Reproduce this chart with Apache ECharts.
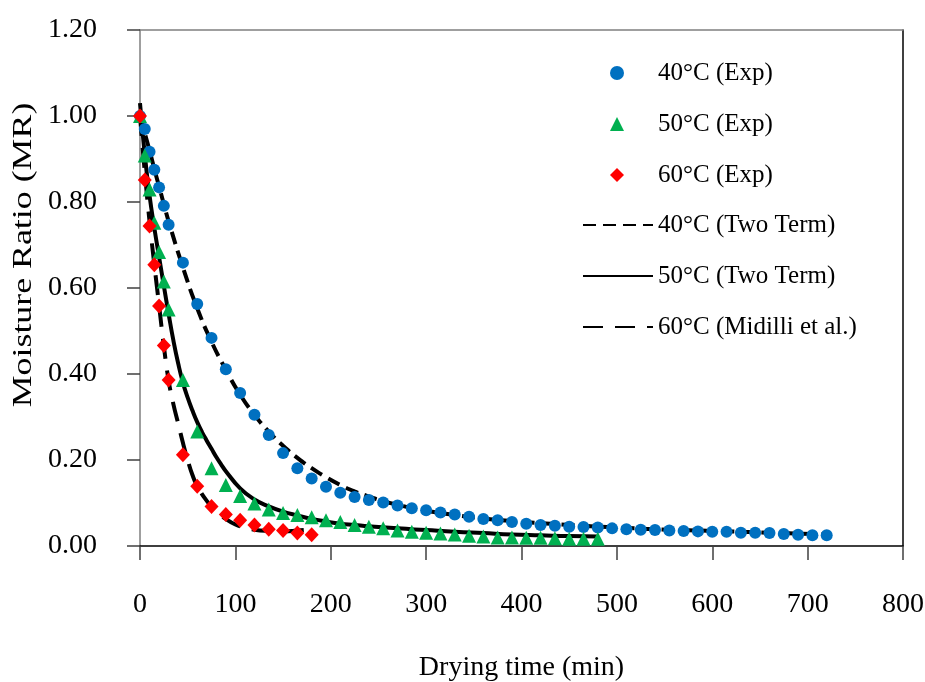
<!DOCTYPE html>
<html>
<head>
<meta charset="utf-8">
<script src="https://cdn.jsdelivr.net/npm/echarts@6/dist/echarts.min.js"></script>
<style>
html,body{margin:0;padding:0;background:#fff;}
#chart{width:925px;height:682px;}
</style>
</head>
<body>
<div id="chart"></div>
<script>
// ---- Data ----
const xTicks = [0, 100, 200, 300, 400, 500, 600, 700, 800];
const yTicks = [0.00, 0.20, 0.40, 0.60, 0.80, 1.00, 1.20];

const seriesNames = ['40°C (Exp)', '50°C (Exp)', '60°C (Exp)', '40°C (Two Term)', '50°C (Two Term)', '60°C (Midilli et al.)'];

const time40 = [0,5,10,15,20,25,30,45,60,75,90,105,120,135,150,165,180,195,210,225,240,255,270,285,300,315,330,345,360,375,390,405,420,435,450,465,480,495,510,525,540,555,570,585,600,615,630,645,660,675,690,705,720];
const mr40 = [1.00,0.970,0.917,0.875,0.834,0.791,0.747,0.659,0.563,0.484,0.411,0.356,0.305,0.258,0.216,0.181,0.157,0.138,0.124,0.114,0.107,0.101,0.094,0.088,0.083,0.078,0.073,0.068,0.063,0.060,0.056,0.052,0.049,0.047,0.045,0.044,0.043,0.041,0.039,0.038,0.037,0.036,0.035,0.034,0.033,0.033,0.031,0.031,0.030,0.028,0.026,0.025,0.025];

const time50 = [0,5,10,15,20,25,30,45,60,75,90,105,120,135,150,165,180,195,210,225,240,255,270,285,300,315,330,345,360,375,390,405,420,435,450,465,480];
const mr50 = [1.00,0.908,0.829,0.752,0.684,0.615,0.550,0.386,0.266,0.181,0.142,0.116,0.099,0.085,0.077,0.072,0.067,0.060,0.056,0.049,0.045,0.041,0.036,0.033,0.031,0.029,0.027,0.024,0.022,0.020,0.020,0.019,0.019,0.018,0.017,0.017,0.017];

const time60 = [0,5,10,15,20,25,30,45,60,75,90,105,120,135,150,165,180];
const mr60 = [1.00,0.851,0.744,0.654,0.558,0.466,0.386,0.212,0.139,0.092,0.073,0.060,0.049,0.039,0.036,0.030,0.026];

// model curves
const fitTime40 = [0,5,10,15,20,25,30,45,60,75,90,105,120,135,150,165,180,195,210,225,240,255,270,285,300,330,360,390,420,450,480,510,540,570,600,630,660,690,720];
const fitMr40 = [1.00,0.960,0.920,0.877,0.836,0.795,0.755,0.648,0.553,0.475,0.410,0.352,0.305,0.266,0.233,0.205,0.181,0.160,0.142,0.127,0.115,0.104,0.096,0.088,0.082,0.072,0.064,0.058,0.053,0.049,0.045,0.042,0.039,0.037,0.035,0.033,0.031,0.029,0.027];

const fitTime50 = [0,5,10,15,20,25,30,35,40,45,50,55,60,65,70,75,80,85,90,105,120,135,150,165,180,195,210,225,240,270,300,330,360,390,420,450,480];
const fitMr50 = [1.03,0.910,0.815,0.740,0.672,0.605,0.540,0.478,0.425,0.380,0.345,0.315,0.288,0.265,0.245,0.226,0.207,0.190,0.174,0.134,0.108,0.092,0.080,0.071,0.063,0.057,0.052,0.049,0.046,0.041,0.037,0.033,0.030,0.027,0.025,0.023,0.022];

const fitTime60 = [0,5,10,15,20,25,30,35,40,45,50,55,60,70,80,90,100,110,120,135,150,165,180];
const fitMr60 = [1.00,0.870,0.755,0.655,0.560,0.465,0.385,0.330,0.285,0.240,0.200,0.165,0.140,0.105,0.080,0.063,0.050,0.043,0.038,0.035,0.034,0.036,0.039];

// ---- Chart ----
const FONT = '"Liberation Serif", "Times New Roman", serif';
const zip = (a, b) => a.map((v, i) => [v, b[i]]);

const chart = echarts.init(document.getElementById('chart'), null, {renderer: 'canvas'});

const option = {
  backgroundColor: '#ffffff',
  animation: false,
  grid: {left: 140, right: 22, top: 30, bottom: 136, containLabel: false, outerBoundsMode: 'none'},
  legend: [{
    orient: 'vertical',
    left: 610,
    top: 60,
    padding: 0,
    itemWidth: 14,
    itemHeight: 14,
    itemGap: 25,
    data: [
      {name: seriesNames[0], icon: 'circle'},
      {name: seriesNames[1], icon: 'triangle'},
      {name: seriesNames[2], icon: 'diamond'}
    ],
    textStyle: {fontFamily: FONT, fontSize: 25, color: '#000', lineHeight: 26, padding: [0, 0, 0, 29]}
  }, {
    orient: 'vertical',
    left: 582,
    top: 212,
    padding: 0,
    itemWidth: 70,
    itemHeight: 14,
    itemGap: 25,
    data: [seriesNames[3], seriesNames[4], seriesNames[5]],
    textStyle: {fontFamily: FONT, fontSize: 25, color: '#000', lineHeight: 26}
  }],
  xAxis: [{
    type: 'value', min: xTicks[0], max: xTicks[xTicks.length - 1], interval: 100,
    position: 'bottom',
    name: 'Drying time (min)', nameLocation: 'middle', nameGap: 108,
    nameTextStyle: {fontFamily: FONT, fontSize: 28, color: '#000'},
    axisLine: {show: true, onZero: false, lineStyle: {color: '#000', width: 1.5}},
    axisTick: {show: true, length: 14, lineStyle: {color: '#404040', width: 1.5}},
    axisLabel: {fontFamily: FONT, fontSize: 28, color: '#000', margin: 45},
    splitLine: {show: false}
  }, {
    type: 'value', min: 0, max: 800, position: 'top',
    axisLine: {show: true, onZero: false, lineStyle: {color: '#808080', width: 1.5}},
    axisTick: {show: false}, axisLabel: {show: false}, splitLine: {show: false}
  }],
  yAxis: [{
    type: 'value', min: yTicks[0], max: yTicks[yTicks.length - 1], interval: 0.2,
    position: 'left',
    axisLine: {show: true, onZero: false, lineStyle: {color: '#7f7f7f', width: 1.5}},
    axisTick: {show: true, length: 13, lineStyle: {color: '#404040', width: 1.5}},
    axisLabel: {fontFamily: FONT, fontSize: 28, color: '#000', margin: 43,
      formatter: v => v.toFixed(2)},
    splitLine: {show: false}
  }, {
    type: 'value', min: 0, max: 1.2, position: 'right',
    axisLine: {show: true, onZero: false, lineStyle: {color: '#000', width: 1.5}},
    axisTick: {show: false}, axisLabel: {show: false}, splitLine: {show: false}
  }],
  graphic: [{
    type: 'text', x: 24, y: 255, rotation: Math.PI / 2, scaleX: 1.28, scaleY: 1,
    style: {text: 'Moisture Ratio (MR)', fontFamily: FONT, fontSize: 28, fill: '#000',
      align: 'center', verticalAlign: 'middle'}
  }],
  series: [
    {name: seriesNames[3], type: 'line', data: zip(fitTime40, fitMr40), symbol: 'none', smooth: 0.5, z: 2,
      lineStyle: {color: '#000', width: 4, type: [13, 7]}, itemStyle: {color: 'rgba(0,0,0,0)'}},
    {name: seriesNames[4], type: 'line', data: zip(fitTime50, fitMr50), symbol: 'none', smooth: 0.5, z: 2,
      lineStyle: {color: '#000', width: 4, type: 'solid'}, itemStyle: {color: 'rgba(0,0,0,0)'}},
    {name: seriesNames[5], type: 'line', data: zip(fitTime60, fitMr60), symbol: 'none', smooth: 0.5, z: 2,
      lineStyle: {color: '#000', width: 4, type: [20, 12]}, itemStyle: {color: 'rgba(0,0,0,0)'}},
    {name: seriesNames[0], type: 'scatter', data: zip(time40, mr40), symbol: 'circle', symbolSize: 12, z: 3,
      itemStyle: {color: '#0070C0', opacity: 1}},
    {name: seriesNames[1], type: 'scatter', data: zip(time50, mr50), symbol: 'triangle', symbolSize: 14, z: 4,
      itemStyle: {color: '#00B050', opacity: 1}},
    {name: seriesNames[2], type: 'scatter', data: zip(time60, mr60), symbol: 'diamond', symbolSize: [14, 15], z: 5,
      itemStyle: {color: '#FF0000', opacity: 1}}
  ]
};
chart.setOption(option);
</script>
</body>
</html>
